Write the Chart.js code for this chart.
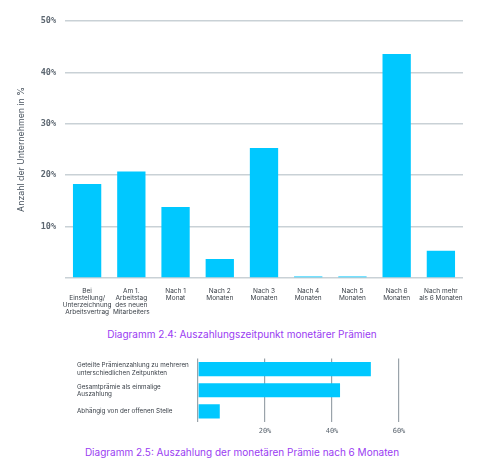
<!DOCTYPE html>
<html>
<head>
<meta charset="utf-8">
<script src="https://cdn.jsdelivr.net/npm/chart.js@4/dist/chart.umd.min.js"></script>
<style>
  body { margin: 0; background: #fff; width: 500px; height: 468px; overflow: hidden; position: relative; }
  .box { position: absolute; left: 0; width: 500px; }
  .caption { position: absolute; left: 0; width: 484px; text-align: center; color: #9a3cf2;
             font-family: Inter, "Noto Sans", sans-serif; font-size: 10px; }
</style>
</head>
<body>
<div class="box" style="top:0;height:325px"><canvas id="timingChart"></canvas></div>
<div class="caption" style="top:328px">Diagramm 2.4: Auszahlungszeitpunkt monetärer Prämien</div>
<div class="box" style="top:352px;height:90px"><canvas id="splitChart"></canvas></div>
<div class="caption" style="top:446px">Diagramm 2.5: Auszahlung der monetären Prämie nach 6 Monaten</div>

<script>
// Diagramm 2.4 data
const timingLabels = [
    ['Bei', 'Einstellung/', 'Unterzeichnung', 'Arbeitsvertrag'],
    ['Am 1.', 'Arbeitstag', 'des neuen', 'Mitarbeiters'],
    ['Nach 1', 'Monat'],
    ['Nach 2', 'Monaten'],
    ['Nach 3', 'Monaten'],
    ['Nach 4', 'Monaten'],
    ['Nach 5', 'Monaten'],
    ['Nach 6', 'Monaten'],
    ['Nach mehr', 'als 6 Monaten']
];
const timingValues = [18.3, 20.7, 13.8, 3.7, 25.3, 0.3, 0.3, 43.6, 5.3];
const timingTicks = [0, 10, 20, 30, 40, 50];

// Diagramm 2.5 data
const splitLabels = [
    ['Geteilte Prämienzahlung zu mehreren', 'unterschiedlichen Zeitpunkten'],
    ['Gesamtprämie als einmalige', 'Auszahlung'],
    'Abhängig von der offenen Stelle'
];
const splitValues = [51.6, 42.4, 6.5];
const splitTicks = [0, 20, 40, 60];

const barColor = '#00c8ff';
const gridColor = '#c9d1d6';

// Vertical bar chart
new Chart(document.getElementById('timingChart'), {
    type: 'bar',
    data: {
        labels: timingLabels,
        datasets: [{
            data: timingValues,
            backgroundColor: barColor,
            categoryPercentage: 0.64,
            barPercentage: 1
        }]
    },
    options: {
        responsive: true,
        maintainAspectRatio: false,
        animation: false,
        layout: { padding: { top: 21, right: 37, left: 0, bottom: 0 } },
        scales: {
            y: {
                min: 0,
                max: 50,
                afterBuildTicks: scale => { scale.ticks = timingTicks.map(v => ({ value: v })); },
                afterFit: scale => { scale.width = 65; },
                border: { display: false },
                grid: { color: gridColor, lineWidth: 1.5, drawTicks: false },
                ticks: {
                    padding: 9,
                    color: '#5c6670',
                    font: { family: 'DejaVu Sans Mono', size: 8.5, weight: 'bold' },
                    callback: v => v === 0 ? '' : v + '%'
                },
                title: {
                    display: true,
                    text: 'Anzahl der Unternehmen in %',
                    color: '#4a5560',
                    font: { family: 'Inter, Noto Sans, sans-serif', size: 8.8 },
                    padding: { top: 16, bottom: 0 }
                }
            },
            x: {
                afterFit: scale => { scale.height = 47; },
                border: { display: false },
                grid: { display: false },
                ticks: {
                    maxRotation: 0,
                    autoSkip: false,
                    padding: 1,
                    color: '#3a4048',
                    font: { family: 'Inter, Noto Sans, sans-serif', size: 6.5, lineHeight: 1.12 }
                }
            }
        },
        plugins: {
            legend: { display: false },
            tooltip: { enabled: false }
        }
    }
});

// Horizontal bar chart
new Chart(document.getElementById('splitChart'), {
    type: 'bar',
    data: {
        labels: splitLabels,
        datasets: [{
            data: splitValues,
            backgroundColor: barColor,
            categoryPercentage: 0.67,
            barPercentage: 1
        }]
    },
    options: {
        indexAxis: 'y',
        responsive: true,
        maintainAspectRatio: false,
        animation: false,
        layout: { padding: { top: 6, right: 101, left: 77, bottom: 0 } },
        scales: {
            x: {
                min: 0,
                max: 60,
                afterBuildTicks: scale => { scale.ticks = splitTicks.map(v => ({ value: v })); },
                afterFit: scale => { scale.height = 20; },
                border: { display: false },
                grid: { color: '#9aa3aa', lineWidth: 1.2, drawTicks: false },
                ticks: {
                    padding: 5,
                    color: '#5c6670',
                    font: { family: 'DejaVu Sans Mono', size: 7 },
                    callback: v => v === 0 ? '' : v + '%'
                }
            },
            y: {
                afterFit: scale => { scale.width = 121; },
                border: { display: false },
                grid: { display: false },
                ticks: {
                    crossAlign: 'far',
                    color: '#3a4048',
                    font: { family: 'Inter, Noto Sans, sans-serif', size: 6.3, lineHeight: 1.12 }
                }
            }
        },
        plugins: {
            legend: { display: false },
            tooltip: { enabled: false }
        }
    }
});
</script>
</body>
</html>
